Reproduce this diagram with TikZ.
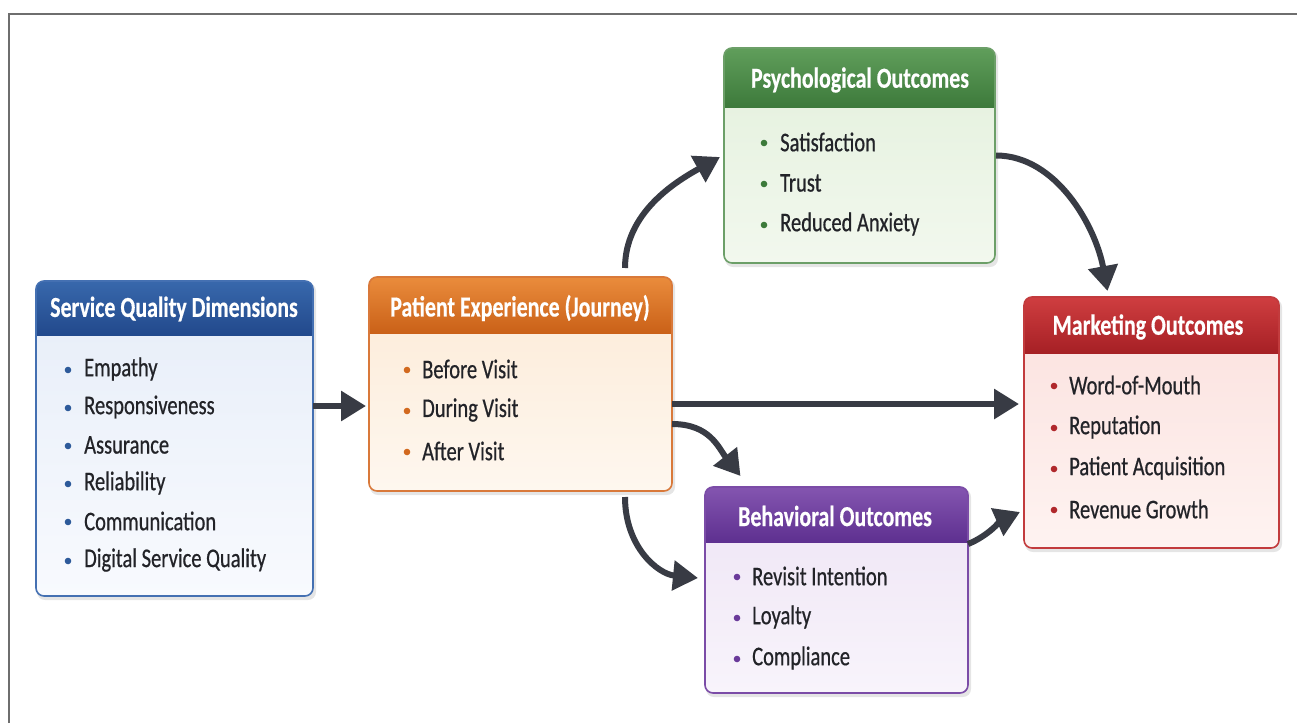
\documentclass[tikz,border=0pt]{standalone}
\usepackage{fontspec}
\setmainfont{Carlito}[FakeStretch=0.76]
\newfontfamily\titlefont{Carlito}[FakeStretch=0.755, FakeBold=0.4]
\newfontfamily\itemfont{Carlito}[FakeStretch=0.76, FakeBold=0.6]
\usetikzlibrary{arrows.meta,calc}
\definecolor{blueH1}{HTML}{3868AC}\definecolor{blueH2}{HTML}{22498C}
\definecolor{blueB1}{HTML}{E6EDF8}\definecolor{blueB2}{HTML}{F8FAFE}
\definecolor{blueL}{HTML}{4470B2}\definecolor{blueD}{HTML}{2D5A9A}
\definecolor{oraH1}{HTML}{EA8C3C}\definecolor{oraH2}{HTML}{CA6118}
\definecolor{oraB1}{HTML}{FCEAD6}\definecolor{oraB2}{HTML}{FEF7EF}
\definecolor{oraL}{HTML}{D9793A}\definecolor{oraD}{HTML}{D2691E}
\definecolor{grnH1}{HTML}{609E5B}\definecolor{grnH2}{HTML}{3D7A3B}
\definecolor{grnB1}{HTML}{E3F0DC}\definecolor{grnB2}{HTML}{F2F8EE}
\definecolor{grnL}{HTML}{6C9F68}\definecolor{grnD}{HTML}{3C7A3A}
\definecolor{redH1}{HTML}{CF3E40}\definecolor{redH2}{HTML}{A62025}
\definecolor{redB1}{HTML}{FBE0DD}\definecolor{redB2}{HTML}{FEF3F1}
\definecolor{redL}{HTML}{C23B3D}\definecolor{redD}{HTML}{B0282C}
\definecolor{purH1}{HTML}{8455B0}\definecolor{purH2}{HTML}{5E3090}
\definecolor{purB1}{HTML}{EEE4F5}\definecolor{purB2}{HTML}{F8F4FB}
\definecolor{purL}{HTML}{7B4CA7}\definecolor{purD}{HTML}{6A3A9A}
\definecolor{arrowc}{HTML}{383B44}
\definecolor{itemc}{HTML}{222328}
\definecolor{framec}{HTML}{6E6E6E}
\newcommand{\panel}[3]{%
  \fill[black,opacity=0.10,rounded corners=8pt] ([xshift=1pt,yshift=-2pt]#1.north west) rectangle ([xshift=3pt,yshift=-4pt]#1.south east);
  \begin{scope}
    \clip[rounded corners=8pt] (#1.north west) rectangle (#1.south east);
    \shade[top color=#3B1, bottom color=#3B2] (#1.north west) rectangle (#1.south east);
    \shade[top color=#3H1, bottom color=#3H2] (#1.north west) rectangle ([yshift=-#2]#1.north east);
  \end{scope}
  \draw[#3L, line width=1.6pt, rounded corners=8pt] (#1.north west) rectangle (#1.south east);
}
\tikzset{
  boxarea/.style={draw=none, fill=none, inner sep=0pt, outer sep=0pt},
  title/.style={text=white, font=\titlefont\bfseries\fontsize{29}{32}\selectfont, inner sep=0pt},
  item/.style={text=itemc, font=\itemfont\fontsize{27}{30}\selectfont, anchor=west, inner sep=0pt},
  arr/.style={draw=arrowc, line width=6pt, -{Triangle[length=25pt, width=29pt]}},
}
\begin{document}
\begin{tikzpicture}[x=1pt, y=-1pt]
\useasboundingbox (0,0) rectangle (1297,723);
\fill[white] (0,0) rectangle (1297,723);
\draw[framec, line width=1.6pt] (9,723) -- (9,14) -- (1297,14);

% box areas
\node[boxarea, minimum width=277pt, minimum height=315pt] (sqd) at (174.5,438.5) {};
\node[boxarea, minimum width=303pt, minimum height=214pt] (pe) at (520.5,384) {};
\node[boxarea, minimum width=271pt, minimum height=215pt] (po) at (859.5,155.5) {};
\node[boxarea, minimum width=255pt, minimum height=251pt] (mo) at (1151.5,422.5) {};
\node[boxarea, minimum width=263pt, minimum height=206pt] (bo) at (836.5,590) {};

\panel{sqd}{54pt}{blue}
\panel{pe}{56pt}{ora}
\panel{po}{59pt}{grn}
\panel{mo}{56pt}{red}
\panel{bo}{55pt}{pur}

% titles
\node[title] (sqdt) at (174,309) {Service Quality Dimensions};
\node[title] (pet) at (520,308) {Patient Experience (Journey)};
\node[title] (pot) at (860,80) {Psychological Outcomes};
\node[title] (mot) at (1148,327) {Marketing Outcomes};
\node[title] (bot) at (835,516) {Behavioral Outcomes};

% items
\foreach \t/\y [count=\i] in {Empathy/369, Responsiveness/407, Assurance/445, Reliability/483, Communication/521, Digital Service Quality/560}{
  \fill[blueD] (68,\y+1) circle (3.3pt);
  \node[item] (sqdi\i) at (84,\y) {\t};
}
\foreach \t/\y [count=\i] in {Before Visit/369, During Visit/410, After Visit/451}{
  \fill[oraD] (407,\y+1) circle (3.3pt);
  \node[item] (pei\i) at (422,\y) {\t};
}
\foreach \t/\y [count=\i] in {Satisfaction/142, Trust/183, Reduced Anxiety/224}{
  \fill[grnD] (764,\y+1) circle (3.3pt);
  \node[item] (poi\i) at (780,\y) {\t};
}
\foreach \t/\y [count=\i] in {Word-of-Mouth/385, Reputation/427, Patient Acquisition/468, Revenue Growth/509}{
  \fill[redD] (1054,\y+1) circle (3.3pt);
  \node[item] (moi\i) at (1069,\y) {\t};
}
\foreach \t/\y [count=\i] in {Revisit Intention/576, Loyalty/617, Compliance/658}{
  \fill[purD] (737,\y+1) circle (3.3pt);
  \node[item] (boi\i) at (752,\y) {\t};
}

% arrows
\draw[arr] ([yshift=32.5pt]sqd.east) -- ([xshift=-3pt,yshift=-22pt]pe.west);
\draw[arr] ([yshift=-20pt]pe.east) -- ([xshift=-5pt,yshift=18.5pt]mo.west);
\draw[arr] ([xshift=104.5pt,yshift=9pt]pe.north) .. controls +(0,-55) and +(-45,25) .. ([xshift=-4pt,yshift=-1.5pt]po.west);
\draw[arr] ([xshift=1pt]po.east) .. controls +(60,0) and +(-12,-65) .. ([xshift=-44pt,yshift=6pt]mo.north);
\draw[arr] ([yshift=-40pt]pe.east) .. controls +(38,0) and +(-22,-28) .. ([xshift=-96pt,yshift=11pt]bo.north);
\draw[arr] ([xshift=104.5pt,yshift=-6pt]pe.south) .. controls +(0,50) and +(-40,-4) .. ([xshift=-7pt,yshift=12pt]bo.west);
\draw[arr] ([yshift=46pt]bo.east) .. controls +(20,-8) and +(-18,8) .. ([xshift=-4pt,yshift=-89.5pt]mo.west);
\end{tikzpicture}
\end{document}
